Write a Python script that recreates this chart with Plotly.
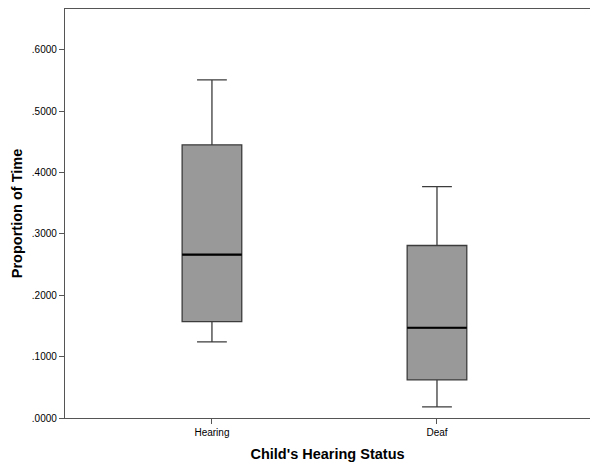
import plotly.graph_objects as go

categories = ["Hearing", "Deaf"]
lower_whisker = [0.124, 0.018]
q1_values = [0.157, 0.062]
median_values = [0.266, 0.147]
q3_values = [0.445, 0.281]
upper_whisker = [0.551, 0.377]
y_ticks = [0.0, 0.1, 0.2, 0.3, 0.4, 0.5, 0.6]

positions = list(range(len(categories)))
box_w = 0.265

fig = go.Figure()
fig.add_trace(go.Box(
    x=positions, q1=q1_values, median=median_values, q3=q3_values,
    lowerfence=lower_whisker, upperfence=upper_whisker,
    width=box_w, whiskerwidth=0.5,
    fillcolor="#999999", line=dict(color="#3c3c3c", width=1.3),
    boxpoints=False, showlegend=False, hoverinfo="skip",
))
for p, m in zip(positions, median_values):
    fig.add_trace(go.Scatter(
        x=[p - box_w / 2, p + box_w / 2], y=[m, m], mode="lines",
        line=dict(color="#000000", width=2.2), showlegend=False, hoverinfo="skip",
    ))

fig.update_layout(
    width=590, height=464,
    margin=dict(l=65, r=0, t=9, b=46),
    paper_bgcolor="white", plot_bgcolor="white",
    font=dict(family="Liberation Sans, Arial, sans-serif", color="#000000"),
)
fig.update_xaxes(
    range=[-0.653, 1.680], tickvals=positions, ticktext=categories,
    ticks="outside", ticklen=5, tickcolor="#555555",
    showline=True, linecolor="#555555", linewidth=1.3, mirror=True,
    showgrid=False, zeroline=False, tickfont=dict(size=10),
    title=dict(text="<b>Child's Hearing Status</b>", font=dict(size=14.5), standoff=11),
)
fig.update_yaxes(
    range=[0, 0.6663], tickvals=y_ticks,
    ticktext=[f"{v:.4f}".lstrip("0") if v > 0 else ".0000" for v in y_ticks],
    ticks="outside", ticklen=5, tickcolor="#555555",
    showline=True, linecolor="#555555", linewidth=1.3, mirror=False,
    showgrid=False, zeroline=False, tickfont=dict(size=10),
    title=dict(text="<b>Proportion of Time</b>", font=dict(size=14.5), standoff=5),
)
fig.write_html(
    "out.html",
    config={"displayModeBar": False},
    post_script="document.body.style.margin='0';document.body.style.overflow='hidden';",
)
